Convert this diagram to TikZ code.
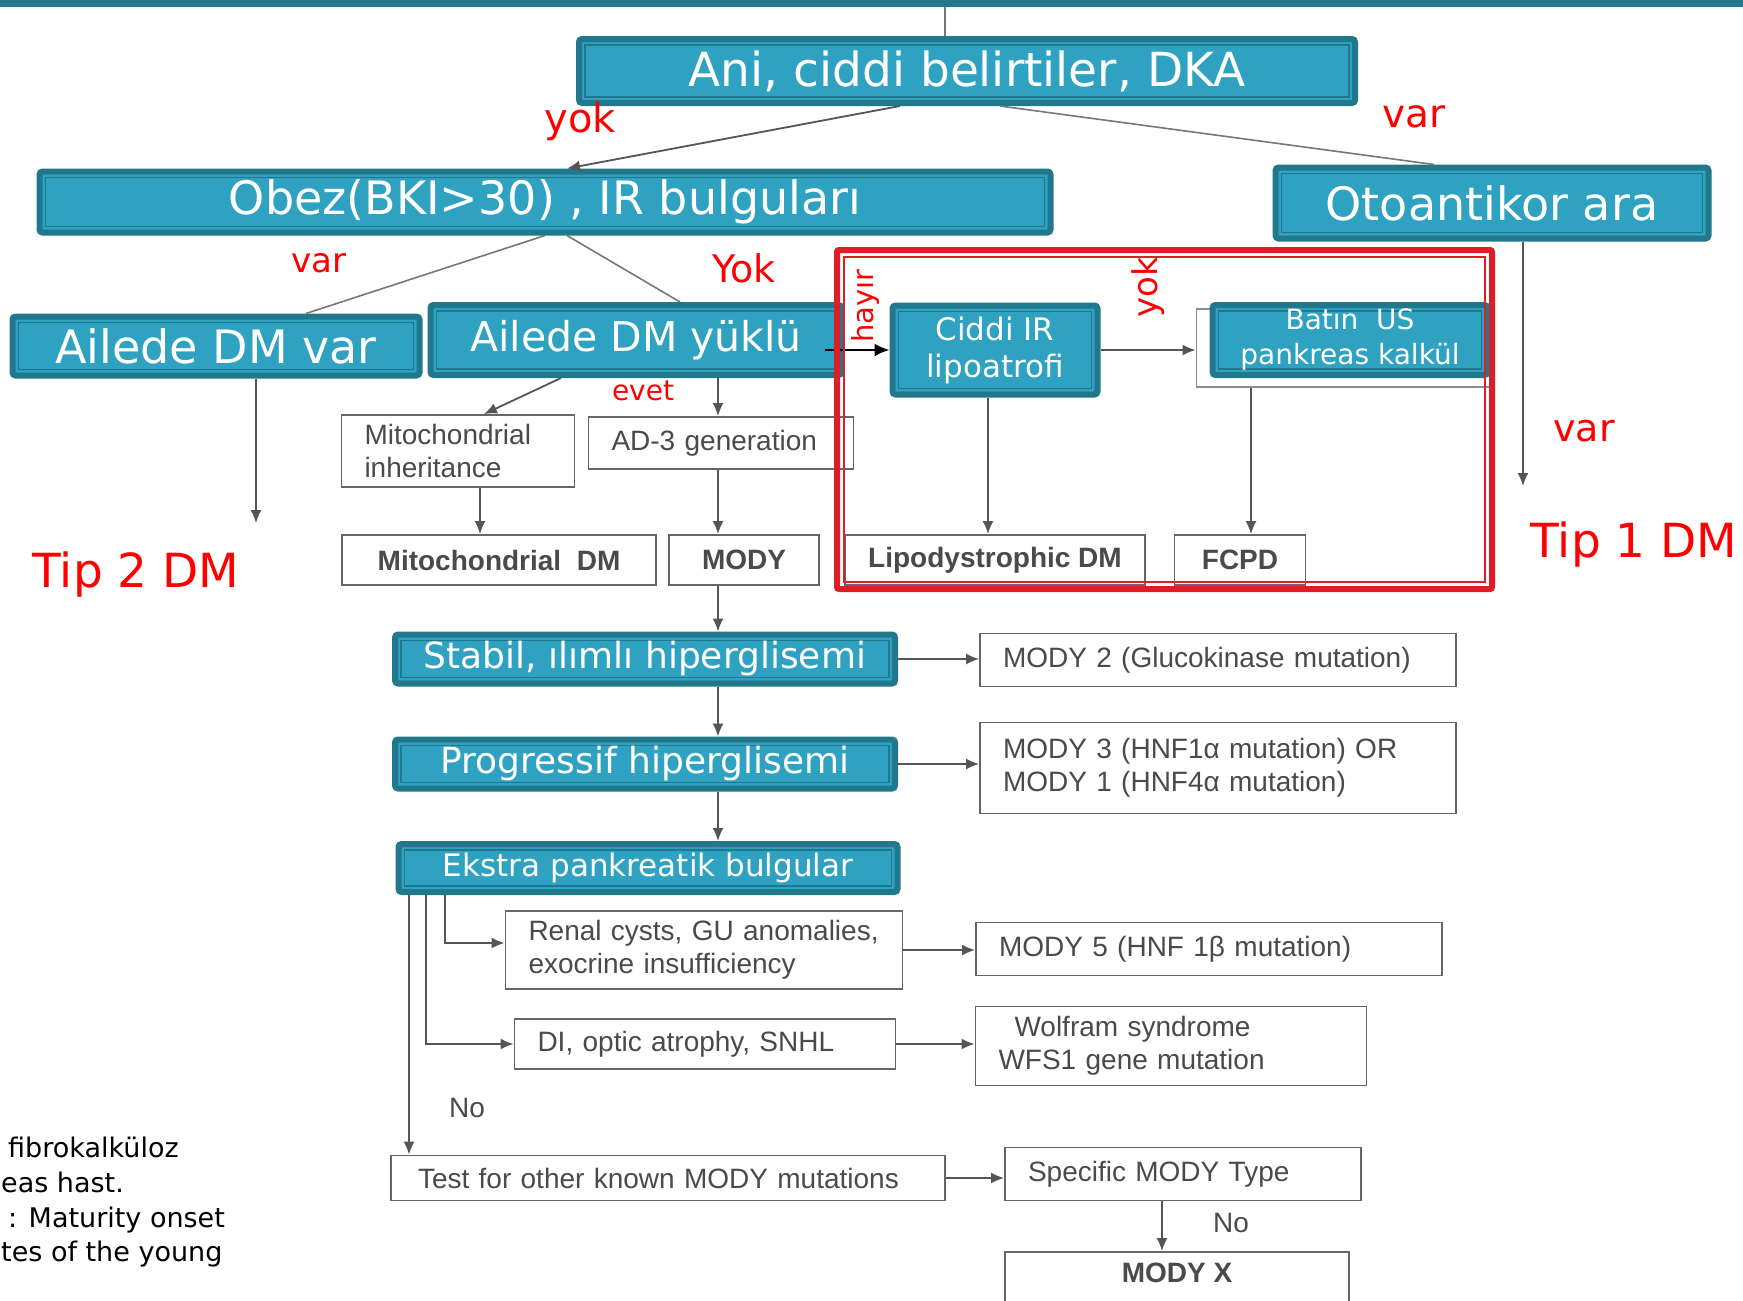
\documentclass[tikz,border=0pt]{standalone}
\usepackage{fontspec}
\newfontfamily\dejavu{DejaVu Sans}
\newfontfamily\arialf{Liberation Sans}
\usetikzlibrary{arrows.meta,calc}

\definecolor{tealfill}{HTML}{2EA2C0}
\definecolor{tealdark}{HTML}{21788C}
\definecolor{framered}{HTML}{DC1F27}
\definecolor{boxtext}{HTML}{4A4A4A}
\definecolor{linegray}{HTML}{555555}

\newcommand{\fsz}[2]{\fontsize{#1}{#2}\selectfont}

\tikzstyle{tealbox} = [rectangle, draw=tealdark, fill=tealfill, line width=6pt, rounded corners=3pt,
    text=white, inner sep=0pt, align=center, font=\dejavu\fsz{46}{55},
    path picture={\draw[tealdark, line width=1.6pt, sharp corners]
        ([shift={(6pt,6pt)}]path picture bounding box.south west) rectangle
        ([shift={(-6pt,-6pt)}]path picture bounding box.north east);}]
\tikzstyle{graybox} = [rectangle, draw=black!60, line width=1.8pt, fill=white, text=boxtext,
    inner sep=0pt, align=left, font=\arialf\fsz{28}{33}]
\tikzstyle{boldbox} = [graybox, align=center, font=\arialf\bfseries\fsz{28}{33}]
\tikzstyle{ptr}    = [draw=linegray, line width=1.8pt, -{Latex[length=13pt,width=11pt]}]
\tikzstyle{blkptr} = [draw=black, line width=2.2pt, -{Latex[length=15pt,width=13pt]}]
\tikzstyle{link}   = [draw=linegray!80, line width=1.6pt]
\tikzstyle{redlbl} = [text=red, inner sep=0pt, font=\dejavu\fsz{38}{45}]
\tikzstyle{nolbl}  = [text=boxtext, inner sep=0pt, font=\arialf\fsz{28}{33}]
\tikzstyle{note}   = [text=black, inner sep=0pt, font=\dejavu\fsz{27}{34}]

\begin{document}
\begin{tikzpicture}[x=1pt, y=-1pt]

    \useasboundingbox (0,0) rectangle (1743,1301);
    \fill[tealdark] (0,0) rectangle (1743,7);
    \coordinate (topbar) at (945,7);

    % teal boxes
    \node[tealbox, minimum width=776pt, minimum height=64pt, font=\dejavu\fsz{47}{56}] (ani) at (967,71) {Ani, ciddi belirtiler, DKA};
    \node[tealbox, minimum width=1011pt, minimum height=61pt] (obez) at (545,202) {Obez(BKI>30) , IR bulguları};
    \node[tealbox, minimum width=433pt, minimum height=71pt] (oto) at (1492,203) {Otoantikor ara};
    \node[tealbox, minimum width=407pt, minimum height=59pt] (ailevar) at (216,346) {Ailede DM var};
    \node[tealbox, minimum width=411pt, minimum height=70pt, font=\dejavu\fsz{41}{50}] (aileyuklu) at (636,340) {Ailede DM yüklü};
    \node[tealbox, minimum width=205pt, minimum height=89pt, font=\dejavu\fsz{31}{37}] (ciddi) at (995,350) {Ciddi IR\\lipoatrofi};
    \node[draw=black!45, line width=1.8pt, minimum width=293pt, minimum height=78pt] (batinbg) at (1343,348) {};
    \node[tealbox, minimum width=275pt, minimum height=70pt, font=\dejavu\fsz{28}{35}] (batin) at (1350,340) {Batın\ \ US\\pankreas kalkül};
    \node[tealbox, minimum width=500pt, minimum height=49pt, font=\dejavu\fsz{36}{43}] (stabil) at (645,659) {Stabil, ılımlı hiperglisemi};
    \node[tealbox, minimum width=500pt, minimum height=49pt, font=\dejavu\fsz{36}{43}] (prog) at (645,764) {Progressif hiperglisemi};
    \node[tealbox, minimum width=499pt, minimum height=48pt, font=\dejavu\fsz{31}{37}] (ekstra) at (648,868) {Ekstra pankreatik bulgular};

    % gray boxes
    \node[graybox, minimum width=233pt, minimum height=72pt, text width=187pt] (mitoinh) at (458,451) {Mitochondrial\\inheritance};
    \node[graybox, minimum width=265pt, minimum height=52pt, text width=219pt] (ad3) at (721,443) {AD-3 generation};
    \node[boldbox, minimum width=314pt, minimum height=50pt] (mitodm) at (499,560) {Mitochondrial\ \ DM};
    \node[boldbox, minimum width=150pt, minimum height=50pt] (mody) at (744,560) {MODY};
    \node[boldbox, minimum width=300pt, minimum height=50pt] (lipo) at (995,560) {Lipodystrophic DM};
    \node[boldbox, minimum width=131pt, minimum height=50pt] (fcpd) at (1240,560) {FCPD};
    \node[graybox, minimum width=476pt, minimum height=53pt, text width=430pt] (mody2) at (1218,660) {MODY 2 (Glucokinase mutation)};
    \node[graybox, minimum width=476pt, minimum height=91pt, text width=430pt] (mody3) at (1218,768) {MODY 3 (HNF1α mutation) OR\\MODY 1 (HNF4α mutation)};
    \node[graybox, minimum width=397pt, minimum height=78pt, text width=351pt] (renal) at (704,950) {Renal cysts, GU anomalies,\\exocrine insufficiency};
    \node[graybox, minimum width=466pt, minimum height=53pt, text width=420pt] (mody5) at (1209,949) {MODY 5 (HNF 1β mutation)};
    \node[graybox, minimum width=381pt, minimum height=50pt, text width=335pt] (di) at (705,1044) {DI, optic atrophy, SNHL};
    \node[graybox, minimum width=391pt, minimum height=79pt, text width=345pt] (wolfram) at (1171,1046) {\hspace*{16pt}Wolfram syndrome\\WFS1 gene mutation};
    \node[graybox, minimum width=554pt, minimum height=45pt, text width=500pt] (test) at (668,1178) {Test for other known MODY mutations};
    \node[graybox, minimum width=356pt, minimum height=53pt, text width=310pt] (specific) at (1183,1174) {Specific MODY Type};
    \node[boldbox, minimum width=344pt, minimum height=70pt, text depth=28pt] (modyx) at (1177,1287) {MODY X};

    % columns and free ends
    \coordinate (maincol) at (718,0);
    \coordinate (mitocol) at (480,0);
    \coordinate (xcol)    at (1162,0);
    \coordinate (brA)     at (445,0);
    \coordinate (brB)     at (426,0);
    \coordinate (brC)     at (409,0);
    \coordinate (tipbirend) at (1523,486);
    \coordinate (tipikiend) at (256,523);

    % connectors
    \path[link] (topbar) -- ([xshift=-22pt]ani.north);
    \path[ptr]  ([xshift=-67pt]ani.south) -- ([xshift=22pt]obez.north);
    \path[link] ([xshift=33pt]ani.south) -- ([xshift=-58pt]oto.north);
    \path[link] (obez.south) -- ([xshift=90pt]ailevar.north);
    \path[link] ([xshift=22pt]obez.south) -- ([xshift=44pt]aileyuklu.north);
    \path[ptr]  (ailevar.south -| tipikiend) -- (tipikiend);
    \path[ptr]  (oto.south -| tipbirend) -- (tipbirend);
    \path[blkptr] ($(aileyuklu.east |- ciddi.west)+(-20,0)$) -- (ciddi.west);
    \path[ptr]  (ciddi.east) -- (ciddi.east -| batinbg.west);
    \path[ptr]  ($(ciddi.south)+(-7,0)$) -- ($(ciddi.south |- lipo.north)+(-7,0)$);
    \path[ptr]  ($(fcpd.north |- batinbg.south)+(11,0)$) -- ($(fcpd.north)+(11,0)$);
    \path[ptr]  ([xshift=-75pt]aileyuklu.south) -- ([xshift=26pt]mitoinh.north);
    \path[ptr]  (aileyuklu.south -| maincol) -- (ad3.north -| maincol);
    \path[ptr]  (mitoinh.south -| mitocol) -- (mitodm.north -| mitocol);
    \path[ptr]  (ad3.south -| maincol) -- (mody.north -| maincol);
    \path[ptr]  (mody.south -| maincol) -- (stabil.north -| maincol);
    \path[ptr]  (stabil.east) -- (stabil.east -| mody2.west);
    \path[ptr]  (stabil.south -| maincol) -- (prog.north -| maincol);
    \path[ptr]  (prog.east) -- (prog.east -| mody3.west);
    \path[ptr]  (prog.south -| maincol) -- (ekstra.north -| maincol);
    \path[ptr]  (ekstra.south -| brA) |- ($(renal.west)+(0,-7)$);
    \path[ptr]  (ekstra.south -| brB) |- (di.west);
    \path[ptr]  (ekstra.south -| brC) -- (test.north -| brC);
    \path[ptr]  (renal.east) -- (renal.east -| mody5.west);
    \path[ptr]  (di.east) -- (di.east -| wolfram.west);
    \path[ptr]  (test.east) -- (test.east -| specific.west);
    \path[ptr]  (specific.south -| xcol) -- (modyx.north -| xcol);

    % red frame
    \draw[framered, line width=6pt, rounded corners=2pt] (837,250) rectangle (1492,589);
    \draw[framered, line width=1.2pt] (844,257) rectangle (1485,582);

    % labels
    \node[redlbl, font=\dejavu\fsz{40}{48}] (yokA) at (580,121) {yok};
    \node[redlbl, font=\dejavu\fsz{39}{47}] (varA) at (1414,117) {var};
    \node[redlbl, font=\dejavu\fsz{34}{40}] (varB) at (319,263) {var};
    \node[redlbl] (yokB) at (744,268) {Yok};
    \node[redlbl, font=\dejavu\fsz{29}{35}, rotate=90] (hayir) at (865,306) {hayır};
    \node[redlbl, font=\dejavu\fsz{34}{40}, rotate=90] (yokC) at (1148,287) {yok};
    \node[redlbl, font=\dejavu\fsz{28}{34}] (evet) at (643,391) {evet};
    \node[redlbl] (varC) at (1584,431) {var};
    \node[redlbl, font=\dejavu\fsz{47}{56}] (tipbir) at (1634,545) {Tip 1 DM};
    \node[redlbl, font=\dejavu\fsz{47}{56}] (tipiki) at (136,575) {Tip 2 DM};
    \node[nolbl] (noA) at (467,1108) {No};
    \node[nolbl] (noB) at (1231,1223) {No};

    % note at the lower left
    \node[note, anchor=base west] (noteA) at (8,1157) {fibrokalküloz};
    \node[note, anchor=base west] (noteB) at (1,1192) {eas hast.};
    \node[note, anchor=base west] (noteC) at (8,1227) {: Maturity onset};
    \node[note, anchor=base west] (noteD) at (1,1261) {tes of the young};

\end{tikzpicture}
\end{document}
